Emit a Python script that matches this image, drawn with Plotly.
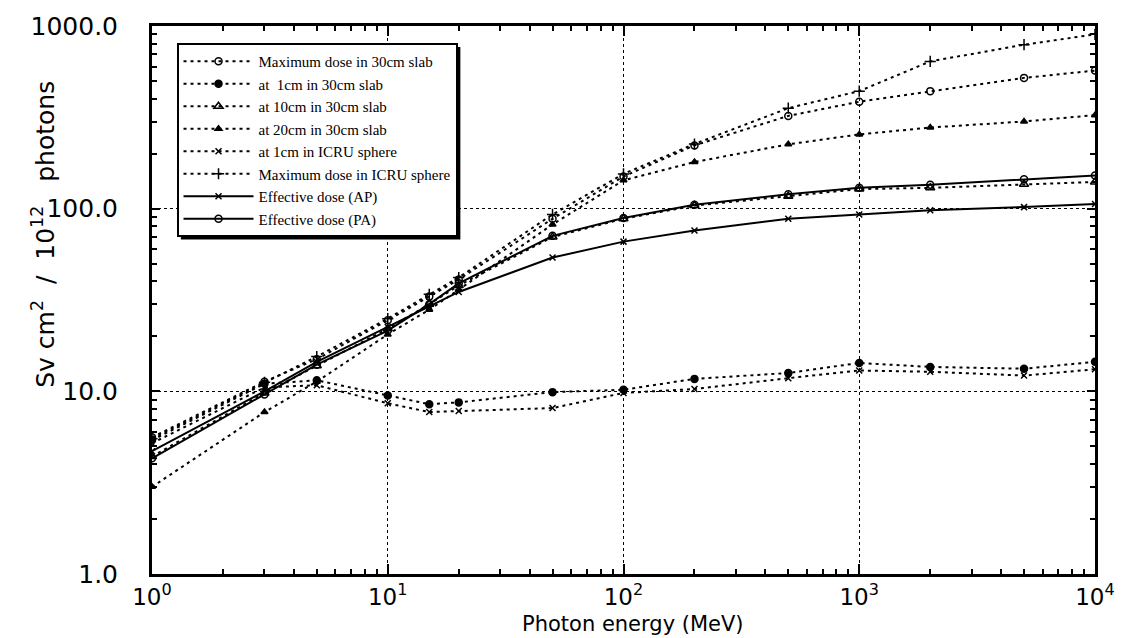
import plotly.graph_objects as go

energy = [1, 3, 5, 10, 15, 20, 50, 100, 200, 500, 1000, 2000, 5000, 10000]

max_slab = [5.6, 11.3, 15.0, 24.5, 33, 41, 88, 150, 222, 322, 385, 440, 520, 570]
slab_1cm = [5.4, 11.0, 11.5, 9.5, 8.5, 8.7, 9.9, 10.2, 11.7, 12.6, 14.3, 13.6, 13.3, 14.5]
slab_10cm = [4.4, 9.8, 13.8, 22, 30, 38, 70, 88, 104, 117, 128, 130, 136, 140]
slab_20cm = [3.0, 7.7, 11.3, 20.5, 28, 36, 82, 143, 180, 225, 255, 278, 300, 325]
icru_1cm = [5.2, 10.5, 10.8, 8.6, 7.7, 7.8, 8.1, 9.8, 10.3, 11.8, 13.0, 12.8, 12.2, 13.2]
max_icru = [5.5, 11.2, 15.5, 25, 34, 42, 93, 155, 226, 355, 440, 640, 790, 900]
eff_ap = [4.7, 10.0, 14.5, 22.5, 29, 35, 54, 66, 76, 88, 93, 98, 102, 106]
eff_pa = [4.3, 9.6, 14.0, 21.5, 30, 39, 71, 89, 105, 120, 130, 135, 145, 152]

names = [
    "Maximum dose in 30cm slab",
    "at  1cm in 30cm slab",
    "at 10cm in 30cm slab",
    "at 20cm in 30cm slab",
    "at 1cm in ICRU sphere",
    "Maximum dose in ICRU sphere",
    "Effective dose (AP)",
    "Effective dose (PA)",
]
series = [max_slab, slab_1cm, slab_10cm, slab_20cm, icru_1cm, max_icru, eff_ap, eff_pa]
symbols = ["circle-open", "circle", "triangle-up-open", "triangle-up",
           "x-thin-open", "cross-thin-open", "x-thin-open", "circle-open"]
msizes = [7, 7, 8, 6, 6, 8, 6, 7]
dashes = ["3px,4px"] * 6 + ["solid", "solid"]

x_tickvals = [1, 10, 100, 1000, 10000]
x_ticktext = ["10<sup>0</sup>", "10<sup>1</sup>", "10<sup>2</sup>", "10<sup>3</sup>", "10<sup>4</sup>"]
y_tickvals = [1, 10, 100, 1000]
y_ticktext = ["1.0", "10.0", "100.0", "1000.0"]

fig = go.Figure()
for i, (nm, ys) in enumerate(zip(names, series)):
    fig.add_trace(go.Scatter(
        x=energy, y=ys, name=nm, mode="lines+markers", legendgroup=f"g{i}",
        line=dict(color="black", width=2, dash=dashes[i]),
        marker=dict(symbol=symbols[i], size=msizes[i], color="black",
                    line=dict(color="black", width=1.5)),
    ))

axis_common = dict(
    type="log", showline=True, linewidth=3, linecolor="black", mirror="allticks",
    ticks="inside", tickcolor="black", tickwidth=2,
    showgrid=True, gridcolor="black", gridwidth=1.2, griddash="dot",
    zeroline=False,
    minor=dict(ticks="inside", ticklen=5, tickwidth=1.5, tickcolor="black",
               dtick="D1", showgrid=False),
)

fig.update_xaxes(**axis_common, range=[0, 4], tickmode="array",
                 tickvals=x_tickvals, ticktext=x_ticktext, ticklen=10,
                 tickfont=dict(family="DejaVu Sans", size=23, color="black"),
                 ticklabelstandoff=0)
fig.update_yaxes(**axis_common, range=[0, 3], tickmode="array",
                 tickvals=y_tickvals, ticktext=y_ticktext, ticklen=8,
                 tickfont=dict(family="DejaVu Sans", size=25, color="black"),
                 ticklabelstandoff=26)

fig.add_annotation(text="Photon energy (MeV)", xref="paper", yref="paper",
                   x=0.51, y=-0.092, xanchor="center", yanchor="middle", showarrow=False,
                   font=dict(family="DejaVu Sans", size=21, color="black"))
fig.add_annotation(text="Sv cm<sup>2</sup>  /  10<sup>12</sup>   photons", xref="paper", yref="paper",
                   x=-0.115, y=0.62, xanchor="center", yanchor="middle", showarrow=False,
                   textangle=-90,
                   font=dict(family="DejaVu Sans", size=25, color="black"))

# legend drop shadow (offset black box behind the white legend box)
fig.add_shape(type="rect", xref="paper", yref="paper",
              x0=(181 - 152) / 948, x1=(462 - 152) / 948,
              y0=1 - (239 - 25) / 549, y1=1 - (46 - 25) / 549,
              fillcolor="black", line=dict(width=0), layer="above")

fig.update_layout(
    width=1127, height=638,
    margin=dict(l=152, r=27, t=25, b=64),
    plot_bgcolor="white", paper_bgcolor="white",
    showlegend=True,
    legend=dict(x=0.026, y=0.969, xanchor="left", yanchor="top",
                bgcolor="white", bordercolor="black", borderwidth=2,
                font=dict(family="Liberation Serif", size=15, color="black"),
                itemwidth=70, traceorder="grouped", tracegroupgap=0),
)

fig.write_html("out.html")
